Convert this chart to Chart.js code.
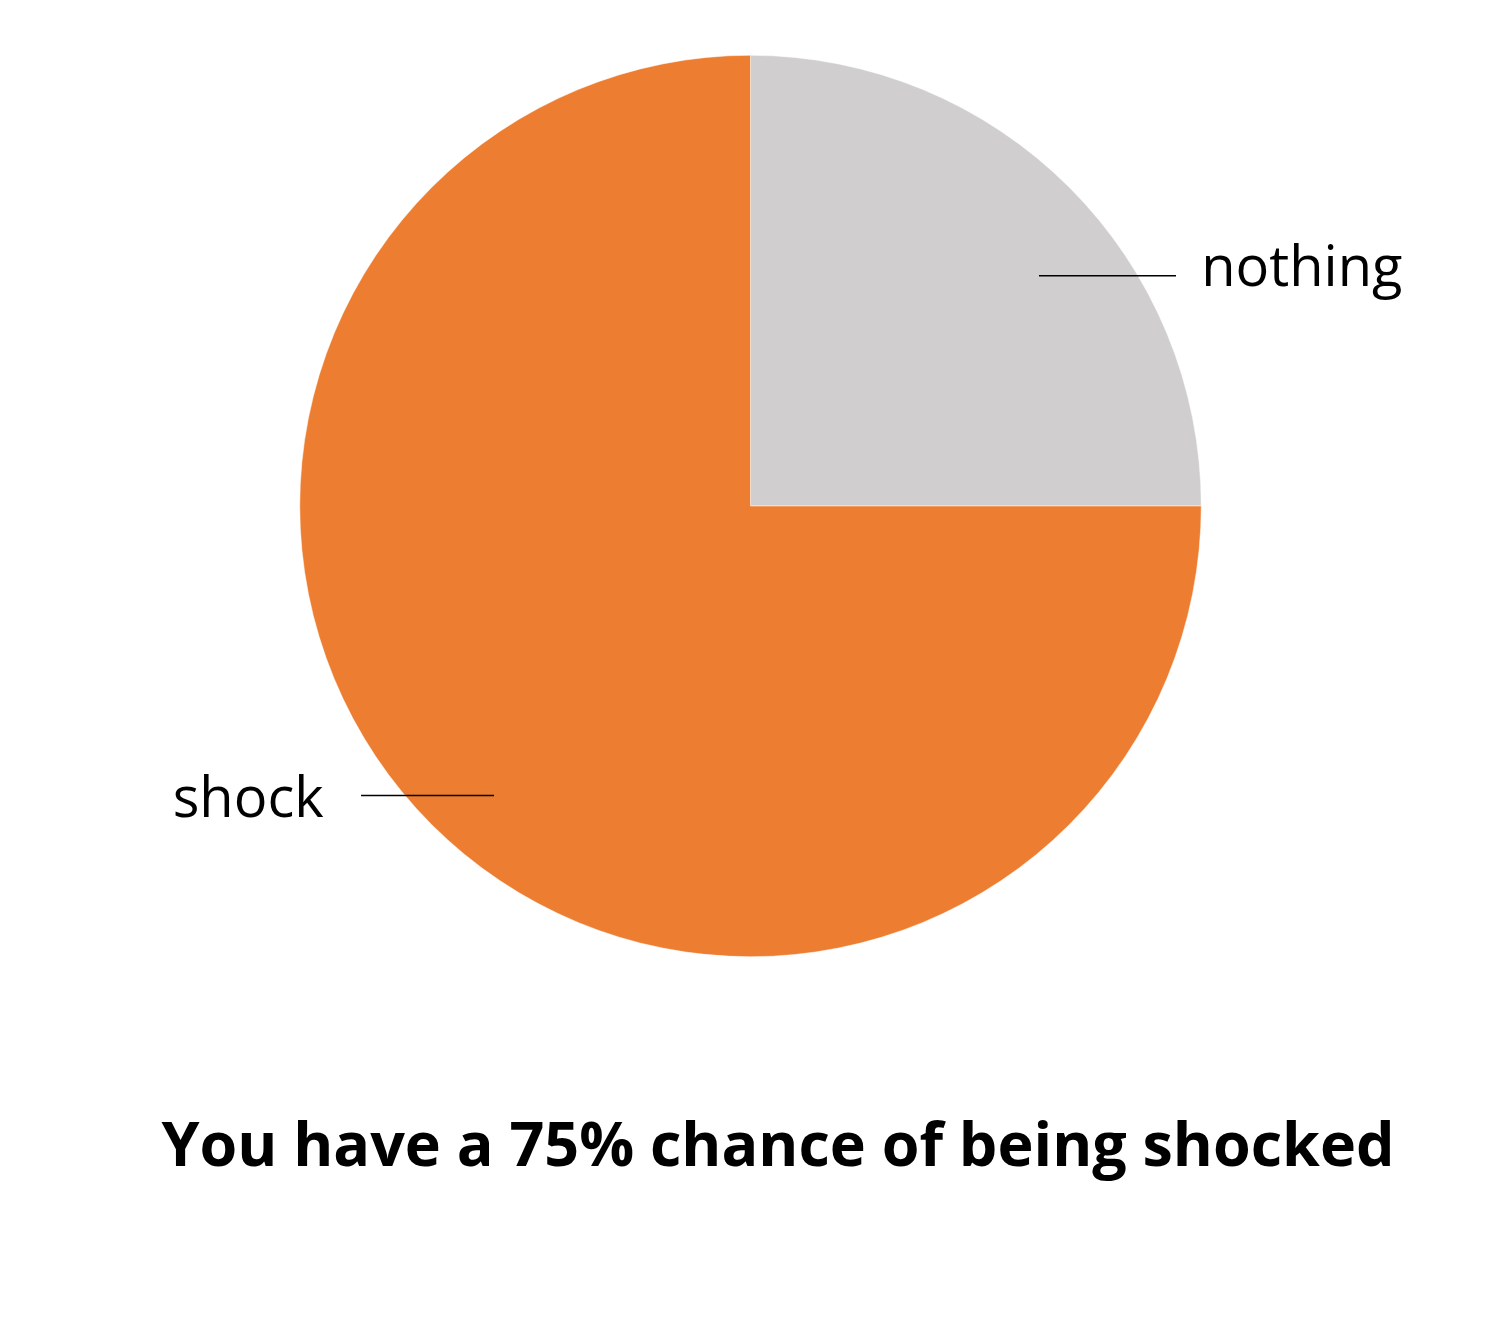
<!DOCTYPE html>
<html>
<head>
<meta charset="utf-8">
<script src="https://cdn.jsdelivr.net/npm/chart.js@4"></script>
<style>
html,body{margin:0;padding:0;background:#fff;}
#wrap{width:1503px;height:1333px;position:relative;}
</style>
</head>
<body>
<div id="wrap"><canvas id="c" width="1503" height="1333"></canvas></div>
<script>
const categories = ['nothing', 'shock'];
const values = [25, 75];
const colors = ['#D0CECE', '#ED7D31'];
const titleText = 'You have a 75% chance of being shocked';

const labelPlugin = {
  id: 'pieLabels',
  afterDraw(chart) {
    const ctx = chart.ctx;
    const meta = chart.getDatasetMeta(0);
    const arc = meta.data[0];
    const cx = arc.x, cy = arc.y, r = arc.outerRadius;
    ctx.save();
    ctx.strokeStyle = '#000';
    ctx.lineWidth = 1.5;
    ctx.fillStyle = '#000';
    ctx.font = '56px "Open Sans", "Noto Sans", sans-serif';
    ctx.textBaseline = 'middle';
    // nothing label
    let y1 = cy - r * 0.511;
    ctx.beginPath();
    ctx.moveTo(cx + r * 0.64, y1);
    ctx.lineTo(cx + r * 0.944, y1);
    ctx.stroke();
    ctx.textAlign = 'left';
    ctx.fillText(categories[0], cx + r * 1.0, y1 - 6);
    // shock label
    let y2 = cy + r * 0.642;
    ctx.beginPath();
    ctx.moveTo(cx - r * 0.864, y2);
    ctx.lineTo(cx - r * 0.569, y2);
    ctx.stroke();
    ctx.textAlign = 'right';
    ctx.fillText(categories[1], cx - r * 0.947, y2 + 6);
    // title
    ctx.font = 'bold 61px "Open Sans", "Noto Sans", sans-serif';
    ctx.textAlign = 'center';
    ctx.textBaseline = 'alphabetic';
    ctx.fillText(titleText, 778, 1166);
    ctx.restore();
  }
};

new Chart(document.getElementById('c'), {
  type: 'pie',
  data: {
    labels: categories,
    datasets: [{
      data: values,
      backgroundColor: colors,
      borderColor: '#ffffff',
      borderWidth: 0.5
    }]
  },
  options: {
    responsive: false,
    animation: false,
    layout: { padding: { left: 299, right: 301, top: 55, bottom: 376 } },
    plugins: {
      legend: { display: false },
      tooltip: { enabled: false },
      title: { display: false }
    }
  },
  plugins: [labelPlugin]
});
</script>
</body>
</html>
